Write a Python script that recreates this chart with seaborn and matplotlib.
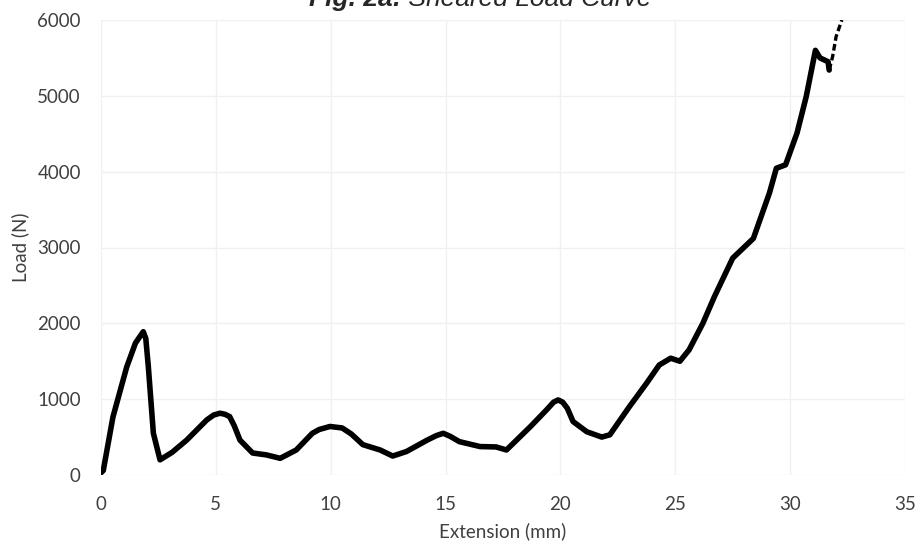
import matplotlib
matplotlib.use("Agg")
import matplotlib.pyplot as plt
import seaborn as sns
import pandas as pd

# Load–extension record of the sheared specimen
extension_mm = [0.0, 0.1, 0.52, 1.12, 1.5, 1.84, 1.95, 2.06, 2.28, 2.57, 3.1, 3.73,
                4.6, 4.9, 5.18, 5.4, 5.6, 5.8, 6.05, 6.6, 7.2, 7.8, 8.5, 9.2, 9.5,
                9.97, 10.5, 10.9, 11.4, 12.15, 12.7, 13.3, 14.2, 14.6, 14.9, 15.2,
                15.6, 16.5, 17.2, 17.65, 18.7, 19.4, 19.7, 19.9, 20.1, 20.3, 20.55,
                21.15, 21.8, 22.15, 23.0, 23.75, 24.3, 24.8, 25.2, 25.6, 26.2, 26.7,
                27.5, 28.4, 29.1, 29.4, 29.8, 30.3, 30.7, 31.1, 31.3, 31.65, 31.7,
                31.85, 32.0, 32.25]
load_n = [30, 60, 765, 1425, 1740, 1890, 1800, 1430, 550, 200, 300, 460,
          725, 790, 815, 800, 770, 650, 460, 290, 265, 220, 330, 550, 600,
          640, 620, 540, 400, 330, 250, 310, 460, 520, 550, 510,
          440, 375, 370, 330, 640, 860, 960, 990, 960, 880, 705,
          570, 500, 530, 900, 1210, 1450, 1540, 1500, 1650, 2000, 2350,
          2860, 3120, 3720, 4045, 4090, 4510, 4990, 5600, 5500, 5450, 5340,
          5520, 5780, 6000]

x_ticks = [0, 5, 10, 15, 20, 25, 30, 35]
y_ticks = [0, 1000, 2000, 3000, 4000, 5000, 6000]

title_bold = "Fig. 2a:"
title_rest = " Sheared Load Curve"

sns.set_theme(style="white")
plt.rcParams["font.family"] = ["Lato", "DejaVu Sans"]

df = pd.DataFrame({"Extension (mm)": extension_mm, "Load (N)": load_n})
tail_start = len(extension_mm) - 4

W, H = 919, 548
fig = plt.figure(figsize=(W / 100, H / 100), dpi=100)
ax = fig.add_axes([101 / W, 1 - 475 / H, 804 / W, 455 / H])

sns.lineplot(data=df.iloc[:tail_start + 1], x="Extension (mm)", y="Load (N)",
             sort=False, estimator=None, color="black", linewidth=4.0, ax=ax,
             solid_capstyle="round", solid_joinstyle="round")
sns.lineplot(data=df.iloc[tail_start:], x="Extension (mm)", y="Load (N)",
             sort=False, estimator=None, color="black", linewidth=2.4, ax=ax,
             linestyle=(0, (2, 1)))

ax.set_xlim(0, 35)
ax.set_ylim(0, 6000)
ax.set_xticks(x_ticks)
ax.set_yticks(y_ticks)
ax.set_xticklabels([str(t) for t in x_ticks])
ax.set_yticklabels([str(t) for t in y_ticks])
ax.tick_params(axis="both", length=0, labelsize=13.5, labelcolor="#404040")
ax.tick_params(axis="x", pad=15)
ax.tick_params(axis="y", pad=14.5)
ax.grid(True, color="#f0f0f0", linewidth=1.0)
ax.set_axisbelow(True)
for s in ax.spines.values():
    s.set_visible(False)

ax.set_xlabel("Extension (mm)", fontsize=13.5, color="#404040", labelpad=6.5)
ax.set_ylabel("Load (N)", fontsize=13.5, color="#404040", labelpad=6)

# Title sits at the very top edge, partly clipped
fig.canvas.draw()
renderer = fig.canvas.get_renderer()
base_y = 1 - 6 / H
t1 = fig.text(0, base_y, title_bold, fontsize=19, fontweight="bold",
              fontstyle="italic", family="Liberation Sans", va="baseline", ha="left")
t2 = fig.text(0, base_y, title_rest, fontsize=19, fontstyle="italic",
              family="Liberation Sans", va="baseline", ha="left")
w1 = t1.get_window_extent(renderer=renderer).width
w2 = t2.get_window_extent(renderer=renderer).width
left_px = 480 - (w1 + w2) / 2
t1.set_x(left_px / W)
t2.set_x((left_px + w1) / W)

fig.savefig("out.png", dpi=100)
